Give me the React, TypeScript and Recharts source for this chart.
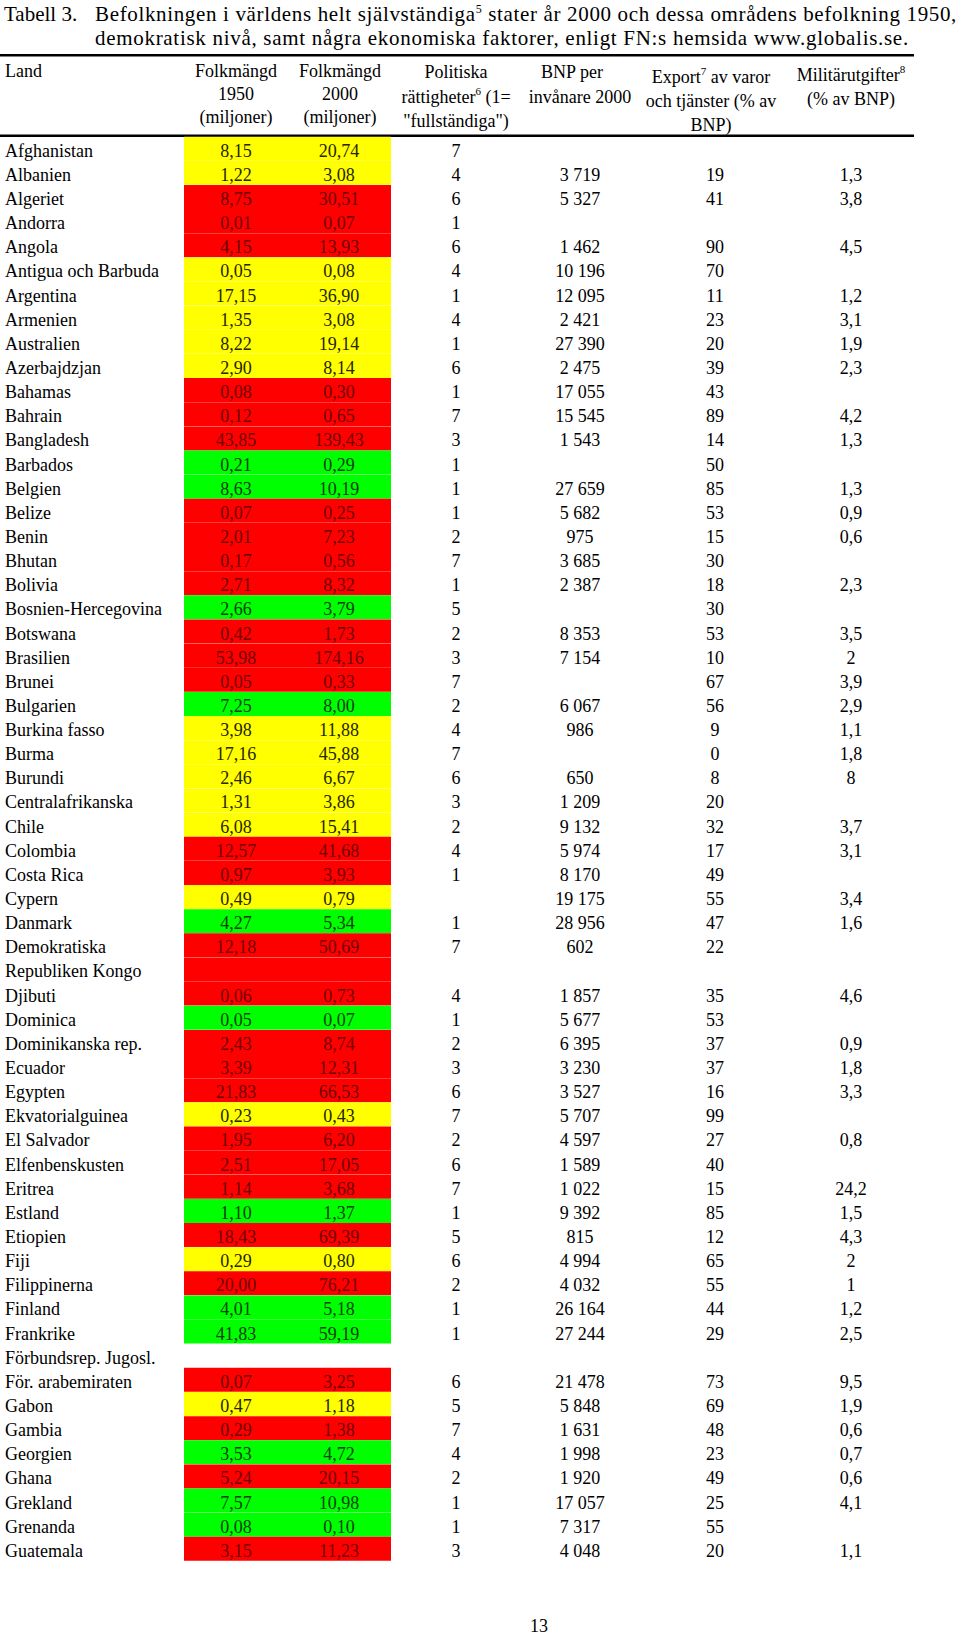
import { Bar, BarChart, Cell, Customized, LabelList, XAxis, YAxis } from "recharts";

// Tabell 3 – one row per line of the table
const countries = [
  "Afghanistan", "Albanien", "Algeriet", "Andorra", "Angola", "Antigua och Barbuda",
  "Argentina", "Armenien", "Australien", "Azerbajdzjan", "Bahamas", "Bahrain",
  "Bangladesh", "Barbados", "Belgien", "Belize", "Benin", "Bhutan", "Bolivia",
  "Bosnien-Hercegovina", "Botswana", "Brasilien", "Brunei", "Bulgarien",
  "Burkina fasso", "Burma", "Burundi", "Centralafrikanska", "Chile", "Colombia",
  "Costa Rica", "Cypern", "Danmark", "Demokratiska", "Republiken Kongo", "Djibuti",
  "Dominica", "Dominikanska rep.", "Ecuador", "Egypten", "Ekvatorialguinea",
  "El Salvador", "Elfenbenskusten", "Eritrea", "Estland", "Etiopien", "Fiji",
  "Filippinerna", "Finland", "Frankrike", "Förbundsrep. Jugosl.", "För. arabemiraten",
  "Gabon", "Gambia", "Georgien", "Ghana", "Grekland", "Grenanda", "Guatemala",
];

const pop1950 = [
  8.15, 1.22, 8.75, 0.01, 4.15, 0.05, 17.15, 1.35, 8.22, 2.9, 0.08, 0.12, 43.85, 0.21,
  8.63, 0.07, 2.01, 0.17, 2.71, 2.66, 0.42, 53.98, 0.05, 7.25, 3.98, 17.16, 2.46, 1.31,
  6.08, 12.57, 0.97, 0.49, 4.27, 12.18, null, 0.06, 0.05, 2.43, 3.39, 21.83, 0.23, 1.95,
  2.51, 1.14, 1.1, 18.43, 0.29, 20.0, 4.01, 41.83, null, 0.07, 0.47, 0.29, 3.53, 5.24,
  7.57, 0.08, 3.15,
];

const pop2000 = [
  20.74, 3.08, 30.51, 0.07, 13.93, 0.08, 36.9, 3.08, 19.14, 8.14, 0.3, 0.65, 139.43, 0.29,
  10.19, 0.25, 7.23, 0.56, 8.32, 3.79, 1.73, 174.16, 0.33, 8.0, 11.88, 45.88, 6.67, 3.86,
  15.41, 41.68, 3.93, 0.79, 5.34, 50.69, null, 0.73, 0.07, 8.74, 12.31, 66.53, 0.43, 6.2,
  17.05, 3.68, 1.37, 69.39, 0.8, 76.21, 5.18, 59.19, null, 3.25, 1.18, 1.38, 4.72, 20.15,
  10.98, 0.1, 11.23,
];

const rights = [
  7, 4, 6, 1, 6, 4, 1, 4, 1, 6, 1, 7, 3, 1, 1, 1, 2, 7, 1, 5, 2, 3, 7, 2, 4, 7, 6, 3, 2, 4,
  1, null, 1, 7, null, 4, 1, 2, 3, 6, 7, 2, 6, 7, 1, 5, 6, 2, 1, 1, null, 6, 5, 7, 4, 2, 1,
  1, 3,
];

const gdpPerCapita = [
  null, 3719, 5327, null, 1462, 10196, 12095, 2421, 27390, 2475, 17055, 15545, 1543, null,
  27659, 5682, 975, 3685, 2387, null, 8353, 7154, null, 6067, 986, null, 650, 1209, 9132,
  5974, 8170, 19175, 28956, 602, null, 1857, 5677, 6395, 3230, 3527, 5707, 4597, 1589,
  1022, 9392, 815, 4994, 4032, 26164, 27244, null, 21478, 5848, 1631, 1998, 1920, 17057,
  7317, 4048,
];

const exportShare = [
  null, 19, 41, null, 90, 70, 11, 23, 20, 39, 43, 89, 14, 50, 85, 53, 15, 30, 18, 30, 53,
  10, 67, 56, 9, 0, 8, 20, 32, 17, 49, 55, 47, 22, null, 35, 53, 37, 37, 16, 99, 27, 40,
  15, 85, 12, 65, 55, 44, 29, null, 73, 69, 48, 23, 49, 25, 55, 20,
];

const military = [
  null, 1.3, 3.8, null, 4.5, null, 1.2, 3.1, 1.9, 2.3, null, 4.2, 1.3, null, 1.3, 0.9, 0.6,
  null, 2.3, null, 3.5, 2, 3.9, 2.9, 1.1, 1.8, 8, null, 3.7, 3.1, null, 3.4, 1.6, null,
  null, 4.6, null, 0.9, 1.8, 3.3, null, 0.8, null, 24.2, 1.5, 4.3, 2, 1, 1.2, 2.5, null,
  9.5, 1.9, 0.6, 0.7, 0.6, 4.1, null, 1.1,
];

// demokratisk nivå: G = grön, Y = gul, R = röd, "" = ingen markering
const level = [
  "Y", "Y", "R", "R", "R", "Y", "Y", "Y", "Y", "Y", "R", "R", "R", "G", "G", "R", "R", "R",
  "R", "G", "R", "R", "R", "G", "Y", "Y", "Y", "Y", "Y", "R", "R", "Y", "G", "R", "R", "R",
  "G", "R", "R", "R", "Y", "R", "R", "R", "G", "R", "Y", "R", "G", "G", "", "R", "Y", "R",
  "G", "R", "G", "G", "R",
];

const FILL: Record<string, string> = { G: "#00ff00", Y: "#ffff00", R: "#ff0000" };
const INK: Record<string, string> = { G: "#0a400a", Y: "#262600", R: "#6e0000" };

const rows = countries.map((land, i) => ({
  land,
  pop1950: pop1950[i],
  pop2000: pop2000[i],
  rights: rights[i],
  gdp: gdpPerCapita[i],
  exp: exportShare[i],
  mil: military[i],
  level: level[i],
}));

// column layout (page pixels, x axis runs 0..960)
const SHADE: [number, number] = [184, 391];
const COL = { pop1950: 236, pop2000: 339, rights: 456, gdp: 580, exp: 715, mil: 851 };
const FONT = 18;

const comma = (v: number, d: number) => v.toFixed(d).replace(".", ",");
const thousands = (v: number) =>
  v >= 1000 ? `${Math.floor(v / 1000)} ${String(v % 1000).padStart(3, "0")}` : String(v);

const fmt: Record<string, (v: number) => string> = {
  pop1950: (v) => comma(v, 2),
  pop2000: (v) => comma(v, 2),
  rights: (v) => String(v),
  gdp: thousands,
  exp: (v) => String(v),
  mil: (v) => (Number.isInteger(v) ? String(v) : comma(v, 1)),
};

const box = (props: any) => props.viewBox ?? props;

const columnLabel = (key: keyof typeof COL) => (props: any) => {
  const row = props.value;
  if (!row || row[key] == null) return null;
  const vb = box(props);
  const shaded = key === "pop1950" || key === "pop2000";
  return (
    <text
      x={COL[key]}
      y={vb.y + vb.height - 4}
      textAnchor="middle"
      fontSize={FONT}
      fill={shaded ? INK[row.level] ?? "#000" : "#000"}
    >
      {fmt[key](row[key])}
    </text>
  );
};

const countryLabel = (props: any) => {
  const row = props.value;
  if (!row) return null;
  const vb = box(props);
  return (
    <text x={5} y={vb.y + vb.height - 4} fontSize={FONT} fill="#000">
      {row.land}
    </text>
  );
};

const Sup = ({ n }: { n: string }) => (
  <>
    <tspan dy={-8} fontSize={11}>
      {n}
    </tspan>
    <tspan dy={8}> </tspan>
  </>
);

const Frame = () => (
  <g fill="#000" fontSize={FONT}>
    <text x={4} y={20.5} fontSize={21}>
      Tabell 3.
    </text>
    <text x={95} y={20.5} fontSize={21} letterSpacing={0.65}>
      Befolkningen i världens helt självständiga
      <tspan dy={-8} fontSize={12}>
        5
      </tspan>
      <tspan dy={8}> stater år 2000 och dessa områdens befolkning 1950,</tspan>
    </text>
    <text x={95} y={44.5} fontSize={21} letterSpacing={0.7}>
      demokratisk nivå, samt några ekonomiska faktorer, enligt FN:s hemsida www.globalis.se.
    </text>
    <rect x={0} y={54} width={914} height={2.5} />

    <text x={5} y={77}>Land</text>
    <g textAnchor="middle">
      <text x={236} y={77}>Folkmängd</text>
      <text x={236} y={100}>1950</text>
      <text x={236} y={123}>(miljoner)</text>
      <text x={340} y={77}>Folkmängd</text>
      <text x={340} y={100}>2000</text>
      <text x={340} y={123}>(miljoner)</text>
      <text x={456} y={78}>Politiska</text>
      <text x={456} y={102.5}>
        rättigheter
        <Sup n="6" />
        (1=
      </text>
      <text x={456} y={127}>"fullständiga")</text>
      <text x={572} y={78}>BNP per</text>
      <text x={580} y={102.5}>invånare 2000</text>
      <text x={711} y={83}>
        Export
        <Sup n="7" />
        av varor
      </text>
      <text x={711} y={107}>och tjänster (% av</text>
      <text x={711} y={131}>BNP)</text>
      <text x={851} y={80.5}>
        Militärutgifter
        <tspan dy={-8} fontSize={11}>
          8
        </tspan>
      </text>
      <text x={851} y={104.5}>(% av BNP)</text>
    </g>
    <rect x={0} y={134.5} width={914} height={2.5} />

    <text x={539} y={1632} textAnchor="middle">
      13
    </text>
  </g>
);

const App = () => (
  <div style={{ position: "absolute", left: 0, top: 0, fontFamily: '"Liberation Serif", "Times New Roman", serif' }}>
    <BarChart
      width={960}
      height={1638}
      data={rows}
      layout="vertical"
      barCategoryGap={0}
      barGap={0}
      margin={{ top: 136.7, right: 0, bottom: 77, left: 0 }}
    >
      <XAxis type="number" domain={[0, 960]} allowDataOverflow hide />
      <YAxis type="category" dataKey="land" hide />
      <Customized component={Frame} />
      <Bar dataKey={() => SHADE} isAnimationActive={false}>
        {rows.map((r, i) => (
          <Cell key={i} fill={FILL[r.level] ?? "none"} />
        ))}
        <LabelList dataKey={(d: any) => d} content={countryLabel} />
        <LabelList dataKey={(d: any) => d} content={columnLabel("pop1950")} />
        <LabelList dataKey={(d: any) => d} content={columnLabel("pop2000")} />
        <LabelList dataKey={(d: any) => d} content={columnLabel("rights")} />
        <LabelList dataKey={(d: any) => d} content={columnLabel("gdp")} />
        <LabelList dataKey={(d: any) => d} content={columnLabel("exp")} />
        <LabelList dataKey={(d: any) => d} content={columnLabel("mil")} />
      </Bar>
    </BarChart>
  </div>
);

export default App;
